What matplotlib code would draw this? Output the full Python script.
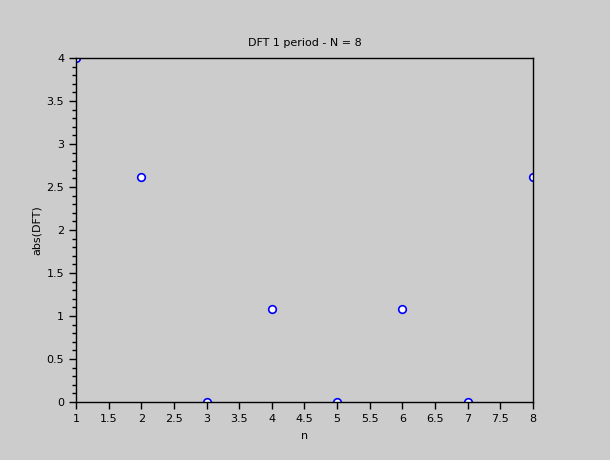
import numpy as np
import matplotlib
matplotlib.use("Agg")
import matplotlib.pyplot as plt
from matplotlib.ticker import MultipleLocator

# DFT-värden för en period, N = 8
n = [1, 2, 3, 4, 5, 6, 7, 8]
absdft = [4.0, 2.613, 0.0, 1.082, 0.0, 1.082, 0.0, 2.613]

bg = "#cccccc"
fig = plt.figure(figsize=(6.1, 4.6001), dpi=100, facecolor=bg)
ax = fig.add_axes([76/610, 1-402/460, (533-76)/610, (402-58)/460])
ax.set_facecolor(bg)

# scatter klipps vid axelkanten, som i originalet
ax.scatter(n, absdft, s=30, facecolors="white", edgecolors="blue",
           linewidths=1.2, zorder=2, clip_on=True)

ax.set_xlim(1, 8)
ax.set_ylim(0, 4)
ax.xaxis.set_major_locator(MultipleLocator(0.5))
ax.yaxis.set_major_locator(MultipleLocator(0.5))
ax.yaxis.set_minor_locator(MultipleLocator(0.1))
ax.xaxis.set_major_formatter(plt.FuncFormatter(lambda v, p: f"{v:g}"))
ax.yaxis.set_major_formatter(plt.FuncFormatter(lambda v, p: f"{v:g}"))

ax.tick_params(axis="both", which="major", direction="out", length=5,
               width=1, labelsize=8, colors="black")
ax.tick_params(axis="y", which="minor", direction="out", length=3, width=1)
ax.tick_params(top=False, right=False)
for s in ax.spines.values():
    s.set_linewidth(1)
    s.set_zorder(3)

ax.set_title("DFT 1 period - N = 8", fontsize=8, pad=9)
ax.set_xlabel("n", fontsize=8, labelpad=5)
ax.set_ylabel("abs(DFT)", fontsize=8, labelpad=3)

fig.savefig("out.png", dpi=100, facecolor=bg)
